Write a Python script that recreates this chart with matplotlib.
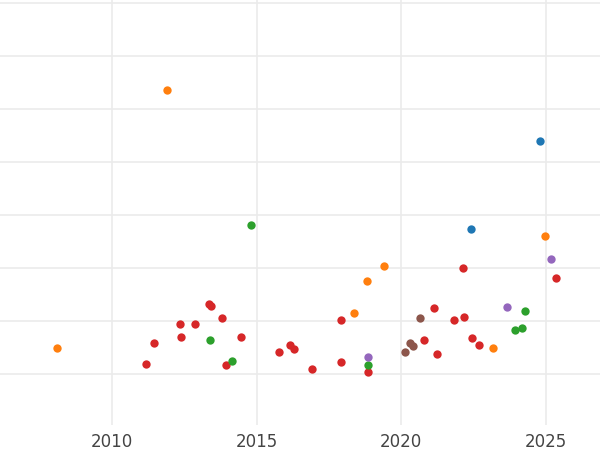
import matplotlib
matplotlib.use("Agg")
import matplotlib.pyplot as plt

orange_x = [2008.10, 2011.90, 2018.37, 2018.81, 2019.40, 2023.17, 2024.97]
orange_y = [0.49, 5.36, 1.15, 1.75, 2.04, 0.49, 2.60]
blue_x = [2024.79, 2022.41]
blue_y = [4.40, 2.74]
green_x = [2014.80, 2013.39, 2014.15, 2018.85, 2024.28, 2023.93, 2024.17]
green_y = [2.81, 0.64, 0.25, 0.17, 1.19, 0.83, 0.87]
purple_x = [2018.85, 2023.65, 2025.17]
purple_y = [0.32, 1.26, 2.17]
brown_x = [2020.65, 2020.13, 2020.30, 2020.40]
brown_y = [1.06, 0.42, 0.58, 0.53]
red_x = [2011.18, 2011.45, 2012.35, 2012.39, 2012.87, 2013.35, 2013.42, 2013.80, 2013.94,
         2014.46, 2015.77, 2016.15, 2016.29, 2016.91, 2017.92, 2017.92, 2018.85, 2021.13,
         2020.78, 2021.23, 2021.82, 2022.17, 2022.13, 2022.44, 2022.69, 2025.35]
red_y = [0.19, 0.58, 0.94, 0.70, 0.94, 1.32, 1.28, 1.06, 0.17, 0.70, 0.42, 0.55, 0.47,
         0.09, 1.02, 0.23, 0.04, 1.25, 0.64, 0.38, 1.02, 1.08, 2.00, 0.68, 0.55, 1.81]
xticks = [2010, 2015, 2020, 2025]

fig = plt.figure(figsize=(6, 4.5), dpi=100)
ax = fig.add_axes([0, 0.056, 1, 0.944])
series = [(red_x, red_y, "#d62728"), (brown_x, brown_y, "#8c564b"),
          (green_x, green_y, "#2ca02c"), (purple_x, purple_y, "#9467bd"),
          (orange_x, orange_y, "#ff7f0e"), (blue_x, blue_y, "#1f77b4")]
for xs, ys, c in series:
    ax.scatter(xs, ys, s=36, color=c, zorder=3, linewidths=0)
ax.set_xlim(2006.13, 2026.87)
ax.set_ylim(-0.96, 7.06)
ax.set_xticks(xticks)
ax.set_xticklabels([str(t) for t in xticks])
ax.set_yticks(range(0, 8))
ax.set_yticklabels([])
ax.grid(True, color="#ebebeb", linewidth=1.2)
ax.set_axisbelow(True)
for s in ax.spines.values():
    s.set_visible(False)
ax.tick_params(axis="both", length=0, labelsize=12, labelcolor="#444444", pad=6)
fig.savefig("out.png", dpi=100)
